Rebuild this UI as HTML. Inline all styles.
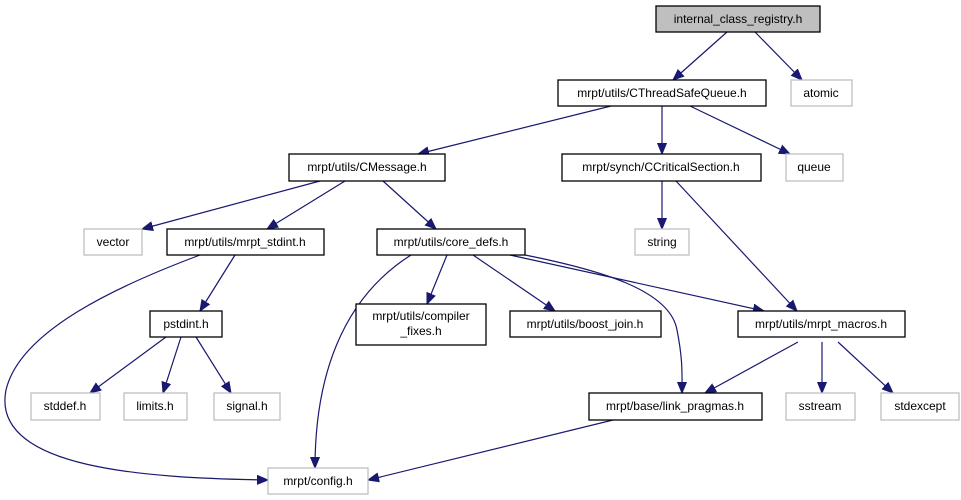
<!DOCTYPE html>
<html><head><meta charset="utf-8"><style>
html,body{margin:0;padding:0;background:#fff}
svg{display:block}
text{font-family:"Liberation Sans",sans-serif;font-size:12px;fill:#000;text-anchor:middle}
.b{fill:#fff;stroke:#000;stroke-width:1.3}
.g{fill:#fff;stroke:#bfbfbf;stroke-width:1.3}
.e{fill:none;stroke:#191970;stroke-width:1.2}
</style></head><body>
<svg width="961" height="500" viewBox="0 0 961 500">
<defs><marker id="a" markerUnits="userSpaceOnUse" markerWidth="12" markerHeight="10" refX="11" refY="5" orient="auto"><path d="M0,0.5 L11,5 L0,9.5 Z" fill="#191970" stroke="#191970"/></marker></defs>
<g class="edges">
<path class="e" marker-end="url(#a)" d="M727,32 L673,80"/>
<path class="e" marker-end="url(#a)" d="M755,32 L802,80"/>
<path class="e" marker-end="url(#a)" d="M611,106 L418,154"/>
<path class="e" marker-end="url(#a)" d="M662,106 L662,154"/>
<path class="e" marker-end="url(#a)" d="M690,106 L790,154"/>
<path class="e" marker-end="url(#a)" d="M320,181 L142,229"/>
<path class="e" marker-end="url(#a)" d="M345,181 L267,229"/>
<path class="e" marker-end="url(#a)" d="M383,181 L436,229"/>
<path class="e" marker-end="url(#a)" d="M662,181 L662,229"/>
<path class="e" marker-end="url(#a)" d="M676,181 L797,311"/>
<path class="e" marker-end="url(#a)" d="M200,255 C120,285 20,330 6,390 C-10,470 150,478 268,480"/>
<path class="e" marker-end="url(#a)" d="M235,255 L200,311"/>
<path class="e" marker-end="url(#a)" d="M411,255 C340,300 315,380 315,468"/>
<path class="e" marker-end="url(#a)" d="M447,255 L427,304"/>
<path class="e" marker-end="url(#a)" d="M473,255 L555,311"/>
<path class="e" marker-end="url(#a)" d="M510,255 L764,311"/>
<path class="e" marker-end="url(#a)" d="M525,255 C600,270 670,290 677,330 C683,360 682,375 682,393"/>
<path class="e" marker-end="url(#a)" d="M166,337 L90,393"/>
<path class="e" marker-end="url(#a)" d="M181,337 L163,393"/>
<path class="e" marker-end="url(#a)" d="M196,337 L231,393"/>
<path class="e" marker-end="url(#a)" d="M798,342 L705,393"/>
<path class="e" marker-end="url(#a)" d="M822,342 L822,393"/>
<path class="e" marker-end="url(#a)" d="M838,342 L893,393"/>
<path class="e" marker-end="url(#a)" d="M613,420 L368,480"/>
</g>
<rect x="656" y="6" width="164" height="26" fill="#bfbfbf" stroke="#000" stroke-width="1.3"/><text x="738" y="23">internal_class_registry.h</text>
<rect class="b" x="558" y="80" width="208" height="26"/><text x="662" y="97">mrpt/utils/CThreadSafeQueue.h</text>
<rect class="g" x="791" y="80" width="61" height="26"/><text x="821" y="97">atomic</text>
<rect class="b" x="289" y="154" width="156" height="27"/><text x="367" y="171">mrpt/utils/CMessage.h</text>
<rect class="b" x="562" y="154" width="199" height="27"/><text x="661" y="171">mrpt/synch/CCriticalSection.h</text>
<rect class="g" x="786" y="154" width="57" height="27"/><text x="814" y="171">queue</text>
<rect class="g" x="84" y="229" width="58" height="26"/><text x="113" y="246">vector</text>
<rect class="b" x="167" y="229" width="157" height="26"/><text x="245" y="246">mrpt/utils/mrpt_stdint.h</text>
<rect class="b" x="377" y="229" width="148" height="26"/><text x="451" y="246">mrpt/utils/core_defs.h</text>
<rect class="g" x="635" y="229" width="54" height="26"/><text x="662" y="246">string</text>
<rect class="b" x="150" y="311" width="72" height="26"/><text x="186" y="328">pstdint.h</text>
<rect class="b" x="356" y="304" width="130" height="41"/><text x="421" y="320">mrpt/utils/compiler</text><text x="421" y="335">_fixes.h</text>
<rect class="b" x="510" y="311" width="151" height="26"/><text x="585" y="328">mrpt/utils/boost_join.h</text>
<rect class="b" x="738" y="311" width="167" height="26"/><text x="821" y="328">mrpt/utils/mrpt_macros.h</text>
<rect class="g" x="31" y="393" width="69" height="27"/><text x="65" y="410">stddef.h</text>
<rect class="g" x="124" y="393" width="63" height="27"/><text x="155" y="410">limits.h</text>
<rect class="g" x="214" y="393" width="66" height="27"/><text x="247" y="410">signal.h</text>
<rect class="b" x="589" y="393" width="173" height="27"/><text x="675" y="410">mrpt/base/link_pragmas.h</text>
<rect class="g" x="786" y="393" width="69" height="27"/><text x="820" y="410">sstream</text>
<rect class="g" x="881" y="393" width="78" height="27"/><text x="920" y="410">stdexcept</text>
<rect class="g" x="268" y="468" width="100" height="26"/><text x="318" y="485">mrpt/config.h</text>
</svg>
</body></html>
